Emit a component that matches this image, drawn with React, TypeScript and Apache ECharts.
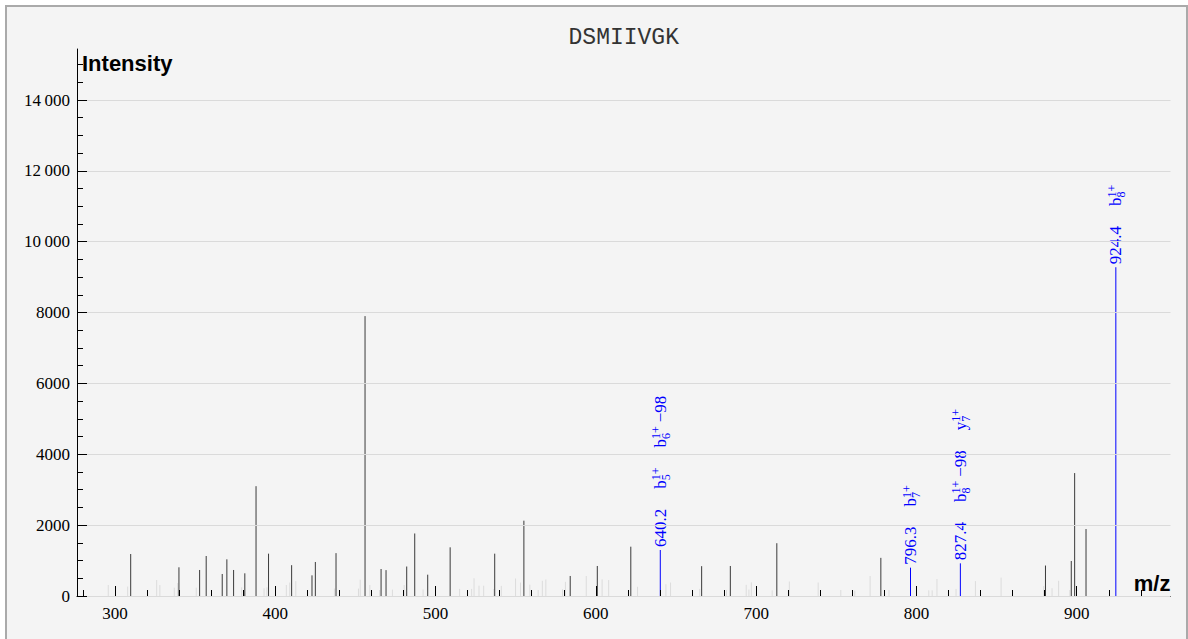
import React, { useEffect, useRef } from 'react';
import * as echarts from 'echarts';

// ---------- data ----------
const TITLE = 'DSMIIVGK';
const Y_LABEL = 'Intensity';
const X_LABEL = 'm/z';

// unassigned peaks (dark)
const peakMz = [309.8, 339.9, 352.8, 356.9, 366.9, 369.8, 374.0, 381.0, 388.0, 395.8, 410.2, 422.9, 425.0, 437.9, 456.0, 466.0, 469.1, 482.0, 487.0, 495.1, 509.1, 536.9, 555.1, 584.0, 600.9, 621.8, 666.0, 683.9, 712.9, 777.8, 880.5, 896.6, 898.7, 905.8];
const peakInt = [1185, 810, 734, 1129, 621, 1035, 734, 640, 3100, 1195, 870, 583, 960, 1210, 7900, 762, 730, 832, 1765, 602, 1374, 1195, 2126, 565, 847, 1392, 842, 847, 1490, 1077, 860, 988, 3470, 1890];

// low-intensity background peaks (light grey)
const noiseMz = [295.8, 307.9, 326.0, 328.0, 337.0, 339.1, 350.7, 379.0, 393.0, 394.8, 406.9, 409.0, 412.8, 436.9, 451.9, 453.0, 459.0, 465.1, 473.1, 480.4, 492.2, 515.0, 522.5, 524.0, 527.1, 530.0, 536.3, 541.0, 549.9, 553.0, 558.8, 564.0, 566.6, 568.8, 579.2, 581.0, 594.0, 603.9, 608.0, 626.0, 643.7, 646.6, 664.8, 681.5, 693.8, 695.5, 697.0, 710.0, 720.7, 738.7, 752.8, 761.5, 771.1, 782.9, 807.7, 809.8, 812.8, 824.7, 836.8, 852.8, 879.4, 884.6, 888.7, 895.7];
const noiseInt = [310, 265, 452, 310, 235, 367, 235, 245, 217, 245, 310, 380, 420, 210, 210, 460, 310, 170, 180, 310, 185, 200, 200, 500, 290, 290, 198, 285, 495, 380, 320, 170, 430, 465, 190, 400, 565, 470, 450, 260, 330, 380, 200, 170, 315, 180, 385, 160, 410, 380, 170, 150, 565, 170, 160, 160, 480, 200, 420, 520, 280, 220, 430, 170];

// annotated peaks
const annMz = [640.2, 796.3, 827.4, 924.4];
const annInt = [1298, 800, 922, 9280];
const annIons = [
  [{ ion: 'b', sub: '5', sup: '1+', suffix: '' }, { ion: 'b', sub: '6', sup: '1+', suffix: '\u221298' }],
  [{ ion: 'b', sub: '7', sup: '1+', suffix: '' }],
  [{ ion: 'b', sub: '8', sup: '1+', suffix: '\u221298' }, { ion: 'y', sub: '7', sup: '1+', suffix: '' }],
  [{ ion: 'b', sub: '8', sup: '1+', suffix: '' }],
];

const X_MIN = 276.3;
const X_MAX = 958.5;
const Y_MAX = 15440;
const X_MINOR = [280, 940, 20];
const X_MAJOR = [300, 900, 100];
const Y_MINOR = [0, 15000, 500];
const Y_MAJOR = [0, 14000, 2000];

// ---------- layout ----------
const W = 1179;
const H = 632;
const G_LEFT = 70;
const G_RIGHT_EDGE = 1163.5;
const G_TOP = 42;
const G_BOTTOM_Y = 589;
const SERIF = "'Liberation Serif', 'DejaVu Serif', serif";
const SANS = "'Liberation Sans', Arial, sans-serif";
const BLUE = '#0000ff';
const FS = 17;
const FS_SMALL = 12;

const measureCtx = typeof document !== 'undefined' ? document.createElement('canvas').getContext('2d') : null;
function tw(t: string, size: number) {
  if (!measureCtx) return t.length * size * 0.5;
  measureCtx.font = `${size}px ${SERIF}`;
  return measureCtx.measureText(t).width;
}

function fmtY(v: number) {
  if (v >= 10000) {
    const s = String(v);
    return s.slice(0, s.length - 3) + '\u2009' + s.slice(s.length - 3);
  }
  return String(v);
}

export default function App() {
  const ref = useRef<HTMLDivElement>(null);
  useEffect(() => {
    if (!ref.current) return;
    const chart = echarts.init(ref.current, undefined, { renderer: 'svg' });
    const gW = G_RIGHT_EDGE - G_LEFT;
    const kx = gW / (X_MAX - X_MIN);
    const gH = G_BOTTOM_Y - G_TOP;
    const ky = gH / Y_MAX;
    const bottom = H - G_BOTTOM_Y;
    const xl = (v: number) => G_LEFT + (v - X_MIN) * kx;
    const rightOf = (v: number) => W - xl(v);
    const topOf = (v: number) => G_BOTTOM_Y - v * ky;

    const grids = [
      { left: G_LEFT, right: W - G_RIGHT_EDGE, top: G_TOP, bottom },
      { left: G_LEFT, right: W - G_RIGHT_EDGE, top: topOf(Y_MINOR[1]), bottom },
      { left: G_LEFT, right: W - G_RIGHT_EDGE, top: topOf(Y_MAJOR[1]), bottom },
      { left: xl(X_MINOR[0]), right: rightOf(X_MINOR[1]), top: G_TOP, bottom },
      { left: xl(X_MAJOR[0]), right: rightOf(X_MAJOR[1]), top: G_TOP, bottom },
    ].map((g) => ({ ...g, containLabel: false, outerBoundsMode: 'none' }));

    const hidden = (gi: number) => ({ gridIndex: gi, type: 'value', show: false, min: 0, max: 1 });
    const black = { color: '#000', width: 1 };
    const tickLabel = {
      show: true, color: '#000', fontFamily: SERIF, fontSize: FS, fontWeight: 'normal',
    };

    const stick = (color: string) => (params: any, api: any) => {
      const p0 = api.coord([api.value(0), 0]);
      const p1 = api.coord([api.value(0), api.value(1)]);
      return {
        type: 'line',
        shape: { x1: p0[0], y1: p0[1], x2: p1[0], y2: p1[1] },
        style: { stroke: color, lineWidth: 1 },
      };
    };

    const txt = (text: string, x: number, y: number, size: number) => ({
      type: 'text',
      x,
      y,
      style: { text, x: 0, y: 0, fill: BLUE, fontSize: size, fontFamily: SERIF, align: 'left', verticalAlign: 'middle' },
    });

    const annRender = (params: any, api: any) => {
      const i = params.dataIndex;
      const p = api.coord([api.value(0), api.value(1)]);
      const children: any[] = [];
      const num = annMz[i].toFixed(1);
      let x = 3;
      children.push(txt(num, x, 0, FS));
      x += tw(num, FS) + 20;
      for (const lab of annIons[i]) {
        children.push(txt(lab.ion, x, 0, FS));
        x += tw(lab.ion, FS);
        children.push(txt(lab.sup, x, -4, FS_SMALL));
        children.push(txt(lab.sub, x, 5.5, FS_SMALL));
        x += Math.max(tw(lab.sup, FS_SMALL), tw(lab.sub, FS_SMALL));
        if (lab.suffix) {
          x += 4;
          children.push(txt(lab.suffix, x, 0, FS));
          x += tw(lab.suffix, FS);
        }
        x += 20;
      }
      return { type: 'group', x: p[0], y: p[1], rotation: Math.PI / 2, children };
    };

    const option: any = {
      animation: false,
      backgroundColor: 'transparent',
      textStyle: { fontFamily: SERIF, fontSize: FS, color: '#000' },
      grid: grids,
      xAxis: [
        {
          gridIndex: 0, type: 'value', min: X_MIN, max: X_MAX,
          axisLine: { show: true, onZero: false, lineStyle: black },
          axisTick: { show: false }, axisLabel: { show: false }, splitLine: { show: false },
        },
        hidden(1),
        hidden(2),
        {
          gridIndex: 3, type: 'value', min: X_MINOR[0], max: X_MINOR[1], interval: X_MINOR[2], z: 5,
          axisLine: { show: false }, axisTick: { show: true, inside: true, length: 6, lineStyle: black },
          axisLabel: { show: false }, splitLine: { show: false },
        },
        {
          gridIndex: 4, type: 'value', min: X_MAJOR[0], max: X_MAJOR[1], interval: X_MAJOR[2], z: 5,
          axisLine: { show: false }, axisTick: { show: true, inside: true, length: 10, lineStyle: black },
          axisLabel: { ...tickLabel, margin: 9 },
          splitLine: { show: false },
        },
      ],
      yAxis: [
        {
          gridIndex: 0, type: 'value', min: 0, max: Y_MAX,
          axisLine: { show: true, onZero: false, lineStyle: black },
          axisTick: { show: false }, axisLabel: { show: false }, splitLine: { show: false },
        },
        {
          gridIndex: 1, type: 'value', min: Y_MINOR[0], max: Y_MINOR[1], interval: Y_MINOR[2], z: 5,
          axisLine: { show: false }, axisTick: { show: true, inside: true, length: 6, lineStyle: black },
          axisLabel: { show: false }, splitLine: { show: false },
        },
        {
          gridIndex: 2, type: 'value', min: Y_MAJOR[0], max: Y_MAJOR[1], interval: Y_MAJOR[2], z: 5,
          axisLine: { show: false }, axisTick: { show: true, inside: true, length: 10, lineStyle: black },
          axisLabel: { ...tickLabel, margin: 7, formatter: fmtY },
          splitLine: { show: true, lineStyle: { color: '#dadada', width: 1 } },
        },
        hidden(3),
        hidden(4),
      ],
      series: [
        {
          type: 'custom', xAxisIndex: 0, yAxisIndex: 0, silent: true,
          data: noiseMz.map((m, i) => [m, noiseInt[i]]),
          renderItem: stick('#dcdcdc'),
        },
        {
          type: 'custom', xAxisIndex: 0, yAxisIndex: 0, silent: true,
          data: peakMz.map((m, i) => [m, peakInt[i]]),
          renderItem: stick('#3a3a3a'),
        },
        {
          type: 'custom', xAxisIndex: 0, yAxisIndex: 0, silent: true,
          data: annMz.map((m, i) => [m, annInt[i]]),
          renderItem: stick(BLUE),
        },
        {
          type: 'custom', xAxisIndex: 0, yAxisIndex: 0, silent: true, clip: false,
          data: annMz.map((m, i) => [m, annInt[i]]),
          renderItem: annRender,
        },
      ],
      graphic: [
        {
          type: 'text', x: G_LEFT + gW / 2, y: 31,
          style: { text: TITLE, fill: '#333', fontSize: 23, fontFamily: "'Liberation Mono', monospace", align: 'center', verticalAlign: 'middle' },
        },
        {
          type: 'text', x: 75, y: 56.5,
          style: { text: Y_LABEL, fill: '#000', fontSize: 22, fontWeight: 'bold', fontFamily: SANS, align: 'left', verticalAlign: 'middle' },
        },
        {
          type: 'text', x: 1163.5, y: 576,
          style: { text: X_LABEL, fill: '#000', fontSize: 22, fontWeight: 'bold', fontFamily: SANS, align: 'right', verticalAlign: 'middle' },
        },
      ],
    };
    chart.setOption(option);
    return () => chart.dispose();
  }, []);

  return (
    <div
      style={{
        position: 'fixed', left: 5, top: 5, width: W, height: 640,
        border: '2px solid #aaaaaa', background: '#f4f4f4', boxSizing: 'content-box',
      }}
    >
      <div ref={ref} style={{ width: W, height: H }} />
    </div>
  );
}
